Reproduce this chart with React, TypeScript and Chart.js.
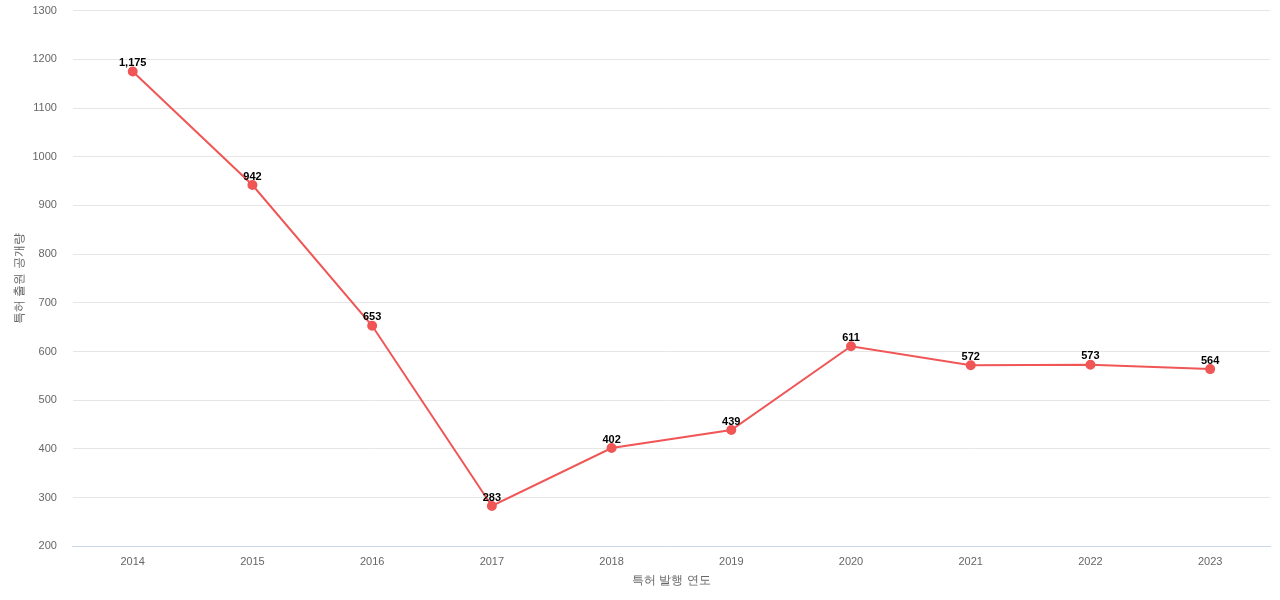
import React, { useEffect, useRef } from "react";
import { Chart, registerables } from "chart.js";

Chart.register(...registerables);

const years = ["2014", "2015", "2016", "2017", "2018", "2019", "2020", "2021", "2022", "2023"];
const counts = [1175, 942, 653, 283, 402, 439, 611, 572, 573, 564];
const yTitle = "특허 출원 공개량";
const xTitle = "특허 발행 연도";

const FONT = "'Liberation Sans', Arial, sans-serif";

const labelPlugin = {
  id: "pointLabels",
  afterDatasetsDraw(chart: any) {
    const ctx = chart.ctx;
    const meta = chart.getDatasetMeta(0);
    ctx.save();
    ctx.font = `bold 11px ${FONT}`;
    ctx.fillStyle = "#000";
    ctx.textAlign = "center";
    ctx.textBaseline = "bottom";
    meta.data.forEach((pt: any, i: number) => {
      ctx.fillText(counts[i].toLocaleString("en-US"), pt.x, pt.y - 3);
    });
    ctx.restore();
  },
};

export default function App() {
  const ref = useRef<HTMLCanvasElement | null>(null);
  useEffect(() => {
    if (!ref.current) return;
    const chart = new Chart(ref.current, {
      type: "line",
      data: {
        labels: years,
        datasets: [
          {
            data: counts,
            borderColor: "#f05656",
            backgroundColor: "#f05656",
            borderWidth: 2,
            pointRadius: 4,
            pointHoverRadius: 4,
            tension: 0,
          },
        ],
      },
      options: {
        animation: false,
        responsive: true,
        maintainAspectRatio: false,
        layout: { padding: { top: 0, right: 10, left: 6, bottom: 12 } },
        plugins: { legend: { display: false }, tooltip: { enabled: false } },
        scales: {
          x: {
            offset: true,
            grid: { display: true, drawOnChartArea: false, drawTicks: true, tickLength: 4, tickColor: "rgba(0,0,0,0)" },
            border: { display: true, color: "#ccd6eb" },
            ticks: { color: "#666", font: { family: FONT, size: 11 }, padding: 5 },
            title: { display: true, text: xTitle, color: "#666", font: { family: FONT, size: 12 }, padding: { top: 0, bottom: 0 } },
          },
          y: {
            min: 200,
            max: 1300,
            ticks: { stepSize: 100, color: "#666", font: { family: FONT, size: 11 }, padding: 4, callback: (v: any) => String(v) },
            grid: { color: "#e6e6e6", drawTicks: true, tickLength: 12, tickColor: "rgba(0,0,0,0)" },
            border: { display: false },
            title: { display: true, text: yTitle, color: "#666", font: { family: FONT, size: 12 }, padding: { top: 6, bottom: 2 } },
          },
        },
      },
      plugins: [labelPlugin],
    });
    return () => chart.destroy();
  }, []);
  return (
    <div style={{ position: "fixed", left: 0, top: 0, width: 1280, height: 600 }}>
      <canvas ref={ref} />
    </div>
  );
}
